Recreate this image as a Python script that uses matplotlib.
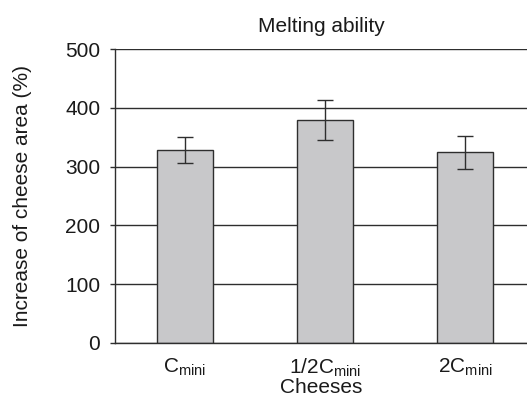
import matplotlib
matplotlib.use("Agg")
import matplotlib.pyplot as plt
import numpy as np

categories = [r"C$_{\mathrm{mini}}$", r"1/2C$_{\mathrm{mini}}$", r"2C$_{\mathrm{mini}}$"]
values = [328, 380, 324]
errors = [22.5, 34, 28.5]
yticks = [0, 100, 200, 300, 400, 500]

plt.rcParams['font.family'] = ['Liberation Sans', 'DejaVu Sans']
plt.rcParams['mathtext.fontset'] = 'custom'
plt.rcParams['mathtext.rm'] = 'Liberation Sans'
plt.rcParams['mathtext.it'] = 'Liberation Sans'

dark = '#2e2e2e'
fig = plt.figure(figsize=(5.27, 3.99), dpi=100)
ax = fig.add_axes([0.218, 0.141, 0.782, 0.736])

x = np.arange(len(categories))
ax.bar(x, values, width=0.4, color='#c8c8ca', edgecolor=dark, linewidth=1.0, zorder=2)
ax.errorbar(x, values, yerr=errors, fmt='none', ecolor=dark, elinewidth=1.0,
            capsize=6, capthick=1.0, zorder=3)

ax.set_xlim(-0.5, 2.44)
ax.set_ylim(0, 500)
ax.set_yticks(yticks)
ax.set_xticks(x)
ax.set_xticklabels(categories)
ax.yaxis.grid(True, color=dark, linewidth=1.0, zorder=0)
ax.set_axisbelow(True)

for s in ['top', 'right']:
    ax.spines[s].set_visible(False)
for s in ['left', 'bottom']:
    ax.spines[s].set_color(dark)
    ax.spines[s].set_linewidth(1.0)

ax.tick_params(axis='y', length=3.6, width=1.0, color=dark, pad=7, labelsize=15, labelcolor='#1a1a1a')
ax.tick_params(axis='x', length=0, pad=10, labelsize=15, labelcolor='#1a1a1a')

ax.set_title("Melting ability", fontsize=15, color='#1a1a1a', pad=12)
ax.set_xlabel("Cheeses", fontsize=15, color='#1a1a1a', labelpad=-1)
ax.set_ylabel("Increase of cheese area (%)", fontsize=15, color='#1a1a1a', labelpad=24)

fig.savefig("out.png", dpi=100)
